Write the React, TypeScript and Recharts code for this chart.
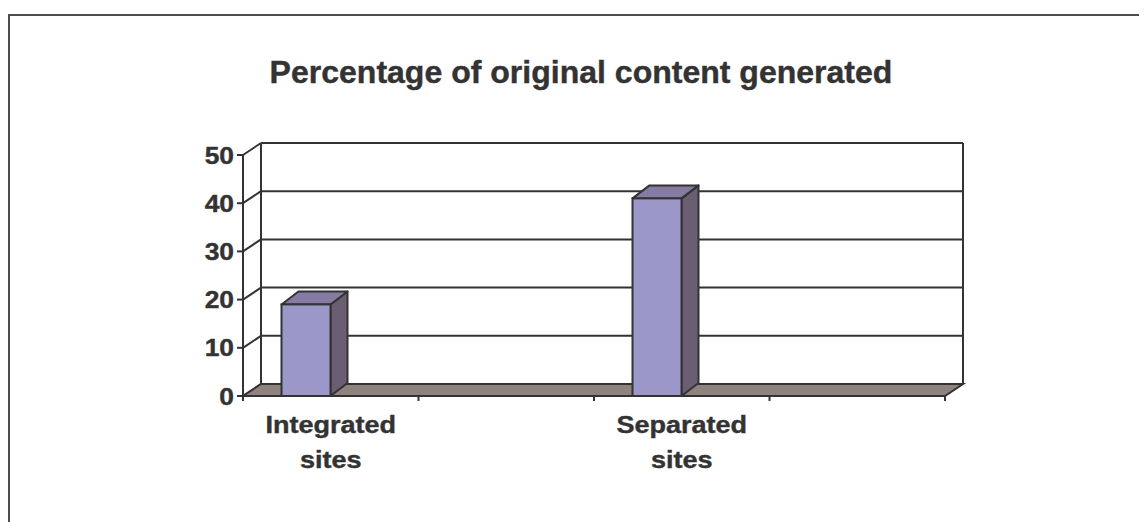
import React from 'react';
import { BarChart, Bar, XAxis, YAxis, CartesianGrid, ReferenceArea } from 'recharts';

// ---- data ----
const categories = ['Integrated sites', 'blank-1', 'Separated sites', 'blank-2'];
const categoryLabels: string[][] = [['Integrated', 'sites'], [], ['Separated', 'sites'], []];
const percentValues: (number | null)[] = [19, null, 41, null];
const yTicks = [0, 10, 20, 30, 40, 50];
const titleText = 'Percentage of original content generated';

const data = categories.map((c, i) => ({ category: c, value: percentValues[i] }));

// ---- style constants ----
const W = 1139;
const H = 514;
const WALL_DX = 18;
const WALL_DY = -12;
const BAR_DX = 17;
const BAR_DY = -13;
const BAR_SHIFT = -24.5;
const LINE = '#333333';
const TEXT = '#333333';
const FONT = '"Liberation Sans", Arial, Helvetica, sans-serif';

const GridLine = (p: any) => {
  const { x1, y1, x2, y2 } = p;
  return (
    <g key={p.key}>
      <line x1={x1 + WALL_DX} y1={y1 + WALL_DY} x2={x2 + WALL_DX} y2={y2 + WALL_DY} stroke={LINE} strokeWidth={2} />
      <line x1={x1} y1={y1} x2={x1 + WALL_DX} y2={y1 + WALL_DY} stroke={LINE} strokeWidth={2} />
    </g>
  );
};

const WallAndFloor = (p: any) => {
  const { x, y, width, height } = p;
  const b = y + height;
  return (
    <g>
      <line x1={x + WALL_DX} y1={y + WALL_DY} x2={x + WALL_DX} y2={b + WALL_DY} stroke={LINE} strokeWidth={2} />
      <line x1={x + width + WALL_DX} y1={y + WALL_DY} x2={x + width + WALL_DX} y2={b + WALL_DY} stroke={LINE} strokeWidth={2} />
      <polygon
        points={`${x},${b} ${x + width},${b} ${x + width + WALL_DX},${b + WALL_DY} ${x + WALL_DX},${b + WALL_DY}`}
        fill="#8f837f"
        stroke={LINE}
        strokeWidth={2}
      />
    </g>
  );
};

const Bar3D = (p: any) => {
  const { x, y, width, height } = p;
  if (height == null || !isFinite(height) || height <= 0) return <g />;
  const fx = x + BAR_SHIFT;
  const w = width;
  return (
    <g>
      <polygon
        points={`${fx + w},${y} ${fx + w + BAR_DX},${y + BAR_DY} ${fx + w + BAR_DX},${y + height + BAR_DY} ${fx + w},${y + height}`}
        fill="#6b5e72"
        stroke={LINE}
        strokeWidth={2}
        strokeLinejoin="round"
      />
      <polygon
        points={`${fx},${y} ${fx + w},${y} ${fx + w + BAR_DX},${y + BAR_DY} ${fx + BAR_DX},${y + BAR_DY}`}
        fill="#857ba3"
        stroke={LINE}
        strokeWidth={2}
        strokeLinejoin="round"
      />
      <rect x={fx} y={y} width={w} height={height} fill="#9b97c9" stroke={LINE} strokeWidth={2} />
    </g>
  );
};

const XTick = (p: any) => {
  const { x, y, payload, index } = p;
  const half = payload && typeof payload.offset === 'number' && payload.offset > 0 ? payload.offset : 87.75;
  const lines = categoryLabels[index] || [];
  return (
    <g>
      <line x1={x - half} y1={y} x2={x - half} y2={y + 5} stroke={LINE} strokeWidth={2} />
      {index === categories.length - 1 && (
        <line x1={x + half} y1={y} x2={x + half} y2={y + 5} stroke={LINE} strokeWidth={2} />
      )}
      <g transform={`translate(${x},${y}) scale(1.15,1)`}>
        <text
          textAnchor="middle"
          fontSize={23.5}
          fontWeight="bold"
          fill={TEXT}
          stroke={TEXT}
          strokeWidth={0.4}
          fontFamily={FONT}
        >
          {lines.map((l, i) => (
            <tspan key={i} x={0} y={37 + i * 35}>
              {l}
            </tspan>
          ))}
        </text>
      </g>
    </g>
  );
};

const YTick = (p: any) => {
  const { x, y, payload } = p;
  return (
    <g transform={`translate(${x},${y}) scale(1.1,1)`}>
      <text
        x={0}
        y={0}
        dy="0.36em"
        textAnchor="end"
        fontSize={24}
        fontWeight="bold"
        fill={TEXT}
        stroke={TEXT}
        strokeWidth={0.4}
        fontFamily={FONT}
      >
        {payload.value}
      </text>
    </g>
  );
};

export default function App() {
  return (
    <div style={{ position: 'relative', width: W, height: H, overflow: 'hidden', background: '#fff' }}>
      <div
        style={{
          position: 'absolute',
          left: 0,
          top: 6,
          width: 1300,
          height: 700,
          borderTop: '2px solid #4d4d4d',
          borderLeft: '2px solid #4d4d4d',
        }}
      />
      <div
        style={{
          position: 'absolute',
          left: 0,
          top: 47,
          width: 1146,
          textAlign: 'center',
          fontFamily: FONT,
          fontWeight: 'bold',
          fontSize: 30.5,
          lineHeight: '34px',
          color: TEXT,
          WebkitTextStroke: '0.4px #333333',
          transform: 'scaleX(1.05)',
          transformOrigin: '573px 0',
          whiteSpace: 'nowrap',
        }}
      >
        {titleText}
      </div>
      <div style={{ position: 'absolute', left: 0, top: 0 }}>
        <BarChart
          width={W}
          height={H}
          data={data}
          margin={{ top: 147, right: 202, bottom: 46, left: 175 }}
          barSize={49}
        >
          <CartesianGrid horizontal={GridLine} vertical={false} />
          <ReferenceArea y1={0} y2={50} ifOverflow="visible" shape={WallAndFloor} />
          <XAxis
            dataKey="category"
            height={80}
            axisLine={false}
            tickLine={false}
            tickSize={0}
            tickMargin={0}
            interval={0}
            tick={XTick}
          />
          <YAxis
            width={60}
            domain={[0, 50]}
            ticks={yTicks}
            interval={0}
            axisLine={{ stroke: LINE, strokeWidth: 2 }}
            tickLine={{ stroke: LINE, strokeWidth: 2 }}
            tickSize={6}
            tickMargin={3}
            tick={YTick}
          />
          <Bar dataKey="value" isAnimationActive={false} shape={Bar3D} />
        </BarChart>
      </div>
    </div>
  );
}
